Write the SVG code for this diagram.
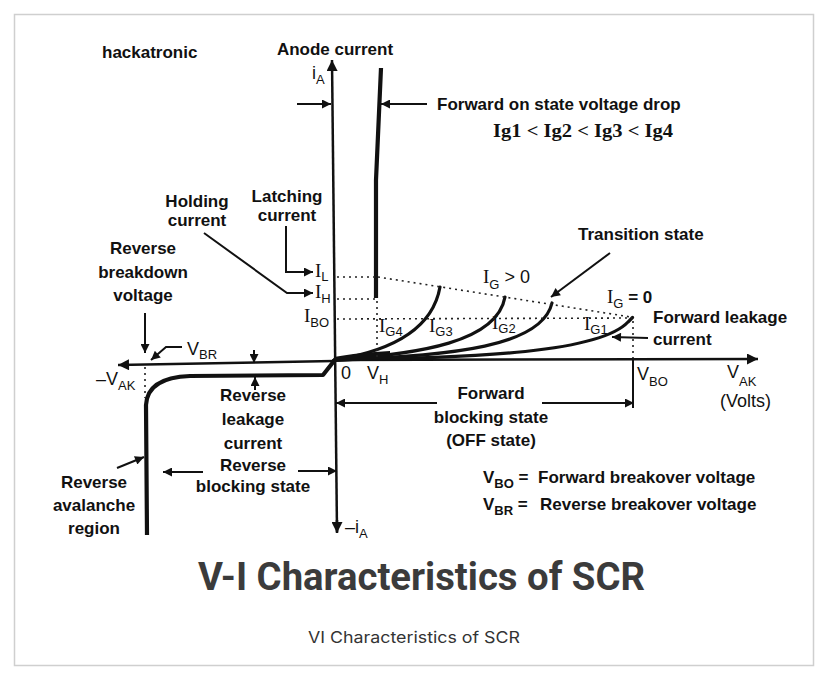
<svg xmlns="http://www.w3.org/2000/svg" width="830" height="685" viewBox="0 0 830 685">
<style>
text{fill:#111}
.lb{font-family:"Liberation Sans",Arial,sans-serif;font-weight:bold;font-size:17px}
.rg{font-family:"Liberation Sans",Arial,sans-serif;font-size:18px}
.ser{font-family:"Liberation Serif","Times New Roman",serif;font-size:19px}
.sub{font-family:"Liberation Sans",Arial,sans-serif;font-size:13px}
.ln{stroke:#111;stroke-width:2;fill:none}
.ax{stroke:#111;stroke-width:2.5;fill:none}
.dot{stroke:#222;stroke-width:1.6;stroke-dasharray:2 4;fill:none}
.cur{stroke:#111;stroke-width:3.2;fill:none;stroke-linecap:round}
.thick{stroke:#111;stroke-width:4.2;fill:none;stroke-linejoin:round}
</style>
<defs>
<marker id="ah" viewBox="0 0 10 10" refX="10" refY="5" markerWidth="11" markerHeight="9" markerUnits="userSpaceOnUse" orient="auto"><path d="M0,0 L10,5 L0,10 z" fill="#111"/></marker>
<marker id="axh" viewBox="0 0 10 10" refX="10" refY="5" markerWidth="13" markerHeight="11" markerUnits="userSpaceOnUse" orient="auto"><path d="M0,0 L10,5 L0,10 z" fill="#111"/></marker>
</defs>
<rect x="0" y="0" width="830" height="685" fill="#fff"/>
<rect x="14.5" y="14.5" width="799" height="651" fill="none" stroke="#cfcfcf" stroke-width="1.5"/>

<g id="plot">
  <line class="ax" x1="337" y1="532" x2="332" y2="60" marker-end="url(#axh)"/>
  <path class="ax" d="M337,520 L337,533" marker-end="url(#axh)"/>
  <line class="ax" x1="334" y1="360" x2="758" y2="359" marker-end="url(#axh)"/>
  <line class="ax" x1="334" y1="361" x2="118" y2="365" marker-end="url(#axh)"/>
  <path class="thick" d="M381,68 L376,180 L376,298" stroke-width="4.5"/>
  <path class="thick" d="M334,361 L323,375 L190,376 C162,377 147,386 146,405 L147,535"/>
  <path class="cur" d="M334,360 C385,352 432,332 440,287"/>
  <path class="cur" d="M334,360 C420,354 497,342 505,297"/>
  <path class="cur" d="M334,360 C455,356 542,346 552,303"/>
  <path class="cur" d="M334,360 C480,358 600,352 628,322 Q634,316 632,318" stroke-width="4"/>
  <path d="M334,357 C350,354 370,352 390,351 L390,359 L334,362 z" fill="#111"/>
  <line class="dot" x1="337" y1="277" x2="378" y2="277"/>
  <line class="dot" x1="378" y1="277" x2="631" y2="317"/>
  <line class="dot" x1="337" y1="299" x2="376" y2="299"/>
  <line class="dot" x1="337" y1="319" x2="632" y2="318"/>
  <line class="dot" x1="377" y1="301" x2="377" y2="358"/>
  <line class="dot" x1="633" y1="321" x2="633" y2="358"/>
  <line class="dot" x1="145" y1="367" x2="145" y2="398"/>
  <line class="ln" x1="633" y1="360" x2="633" y2="408"/>
</g>

<g id="connectors">
  <line class="ln" x1="297" y1="104" x2="331" y2="104" marker-end="url(#ah)"/>
  <line class="ln" x1="427" y1="104" x2="381" y2="104" marker-end="url(#ah)"/>
  <polyline class="ln" points="286,226 286,272 313,272" marker-end="url(#ah)"/>
  <polyline class="ln" points="204,233 287,293 313,293" marker-end="url(#ah)"/>
  <line class="ln" x1="610" y1="253" x2="551" y2="297" marker-end="url(#ah)"/>
  <line class="ln" x1="648" y1="338" x2="612" y2="337" marker-end="url(#ah)"/>
  <line class="ln" x1="437" y1="403" x2="336" y2="403" marker-end="url(#ah)"/>
  <line class="ln" x1="542" y1="403" x2="634" y2="403" marker-end="url(#ah)"/>
  <line class="ln" x1="145" y1="313" x2="145" y2="353" marker-end="url(#ah)"/>
  <polyline class="ln" points="182,347 166,347 151,360" marker-end="url(#ah)"/>
  <line class="ln" x1="254" y1="350" x2="254" y2="363" marker-end="url(#ah)"/>
  <line class="ln" x1="255" y1="390" x2="255" y2="377" marker-end="url(#ah)"/>
  <line class="ln" x1="203" y1="472" x2="163" y2="472" marker-end="url(#ah)"/>
  <line class="ln" x1="298" y1="471" x2="337" y2="471" marker-end="url(#ah)"/>
  <line class="ln" x1="117" y1="468" x2="144" y2="457" marker-end="url(#ah)"/>
</g>

<g id="brand"><text class="lb" x="102" y="58">hackatronic</text></g>
<g id="anode"><text class="lb" x="335" y="55" text-anchor="middle">Anode current</text></g>
<g id="ia-top"><text class="rg" x="312" y="79">i<tspan class="sub" dy="5">A</tspan></text></g>
<g id="fwd-drop"><text class="lb" x="437" y="110" font-size="18">Forward on state voltage drop</text></g>
<g id="ig-order"><text class="ser" x="493" y="137" font-weight="bold" font-size="18" textLength="180" lengthAdjust="spacingAndGlyphs">Ig1 &lt; Ig2 &lt; Ig3 &lt; Ig4</text></g>
<g id="holding"><text class="lb" text-anchor="middle"><tspan x="197" y="207">Holding</tspan><tspan x="197" y="226">current</tspan></text></g>
<g id="latching"><text class="lb" text-anchor="middle"><tspan x="287" y="202">Latching</tspan><tspan x="287" y="221">current</tspan></text></g>
<g id="transition"><text class="lb" x="578" y="240">Transition state</text></g>
<g id="rev-bd"><text class="lb" text-anchor="middle"><tspan x="143" y="254">Reverse</tspan><tspan x="143" y="278">breakdown</tspan><tspan x="143" y="301">voltage</tspan></text></g>
<g id="il"><text class="ser" x="315" y="277">I<tspan class="sub" dy="4">L</tspan></text></g>
<g id="ih"><text class="ser" x="315" y="298">I<tspan class="sub" dy="5">H</tspan></text></g>
<g id="ibo"><text class="ser" x="304" y="322">I<tspan class="sub" dy="5">BO</tspan></text></g>
<g id="ig-gt"><text class="ser" x="483" y="283">I<tspan class="sub" dy="6">G</tspan><tspan class="rg" font-size="20" dy="-6"> &gt; 0</tspan></text></g>
<g id="ig-eq"><text class="ser" x="607" y="303">I<tspan class="sub" dy="5">G</tspan><tspan class="lb" font-size="19" dy="-5"> = 0</tspan></text></g>
<g id="ig4"><text class="ser" x="379" y="332">I<tspan class="sub" dy="4">G4</tspan></text></g>
<g id="ig3"><text class="ser" x="429" y="332">I<tspan class="sub" dy="4">G3</tspan></text></g>
<g id="ig2"><text class="ser" x="492" y="329">I<tspan class="sub" dy="4">G2</tspan></text></g>
<g id="ig1"><text class="ser" x="584" y="330">I<tspan class="sub" dy="4">G1</tspan></text></g>
<g id="fwd-leak"><text class="lb"><tspan x="653" y="323">Forward leakage</tspan><tspan x="653" y="345">current</tspan></text></g>
<g id="vbr"><text class="rg" x="187" y="355">V<tspan class="sub" dy="4">BR</tspan></text></g>
<g id="neg-vak"><text class="rg" x="96" y="385">–V<tspan class="sub" dy="5">AK</tspan></text></g>
<g id="zero"><text class="rg" x="341" y="379">0</text></g>
<g id="vh"><text class="rg" x="367" y="379">V<tspan class="sub" dy="5">H</tspan></text></g>
<g id="vbo"><text class="rg" x="637" y="380">V<tspan class="sub" dy="6">BO</tspan></text></g>
<g id="vak"><text class="rg" x="727" y="378">V<tspan class="sub" dy="8">AK</tspan></text><text class="rg" x="720" y="407" font-size="17">(Volts)</text></g>
<g id="fwd-block"><text class="lb" text-anchor="middle"><tspan x="491" y="399">Forward</tspan><tspan x="491" y="423">blocking state</tspan><tspan x="491" y="446">(OFF state)</tspan></text></g>
<g id="rev-leak"><text class="lb" text-anchor="middle"><tspan x="253" y="401">Reverse</tspan><tspan x="253" y="425">leakage</tspan><tspan x="253" y="449">current</tspan><tspan x="253" y="471">Reverse</tspan><tspan x="253" y="492">blocking state</tspan></text></g>
<g id="rev-aval"><text class="lb" text-anchor="middle"><tspan x="94" y="488">Reverse</tspan><tspan x="94" y="511">avalanche</tspan><tspan x="94" y="534">region</tspan></text></g>
<g id="legend"><text class="lb" x="483" y="483" font-size="18">V<tspan class="sub" font-weight="bold" dy="5">BO</tspan><tspan dy="-5"> = </tspan><tspan x="538">Forward breakover voltage</tspan></text><text class="lb" x="483" y="510" font-size="18">V<tspan class="sub" font-weight="bold" dy="5">BR</tspan><tspan dy="-5"> = </tspan><tspan x="540">Reverse breakover voltage</tspan></text></g>
<g id="neg-ia"><text class="rg" x="345" y="533">–i<tspan class="sub" dy="5">A</tspan></text></g>
<g id="title"><text x="198" y="590" font-family="Roboto,'Liberation Sans',sans-serif" font-weight="bold" font-size="38" style="fill:#3b3b3b" textLength="447" lengthAdjust="spacingAndGlyphs">V-I Characteristics of SCR</text></g>
<g id="caption"><text x="308" y="643" font-family="Inter,'Open Sans',sans-serif" font-size="16" style="fill:#333" textLength="212" lengthAdjust="spacingAndGlyphs">VI Characteristics of SCR</text></g>
</svg>
